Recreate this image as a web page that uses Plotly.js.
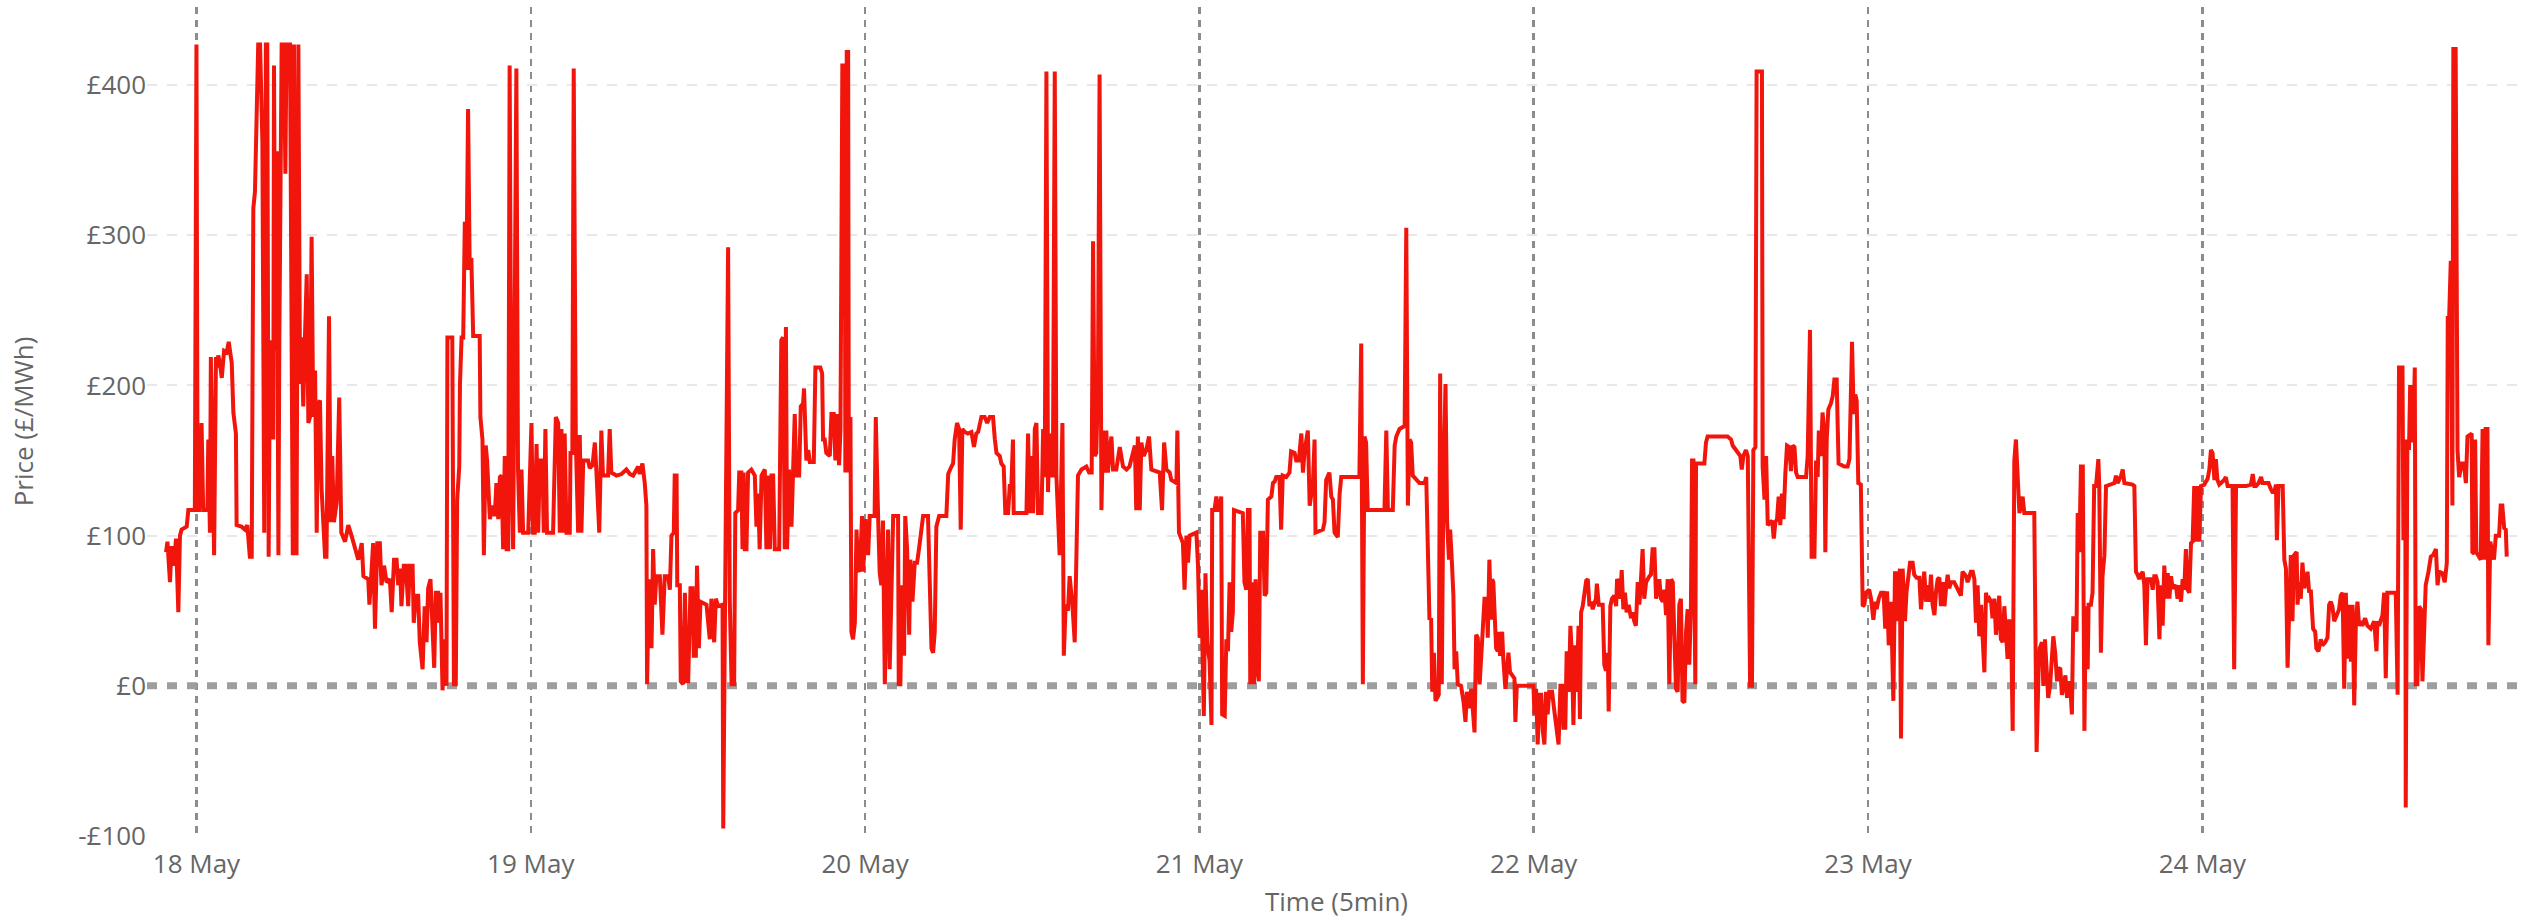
<!DOCTYPE html>
<html>
<head>
<meta charset="utf-8">
<script src="https://cdn.plot.ly/plotly-3.0.1.min.js"></script>
<style>html,body{margin:0;padding:0;background:#fff;}#chart{width:2544px;height:919px;}</style>
</head>
<body>
<div id="chart"></div>
<script>
// 5-minute prices: [hour of day, £/MWh]
const may17 = [[21.81,89],[21.91,96],[22.10,69],[22.22,93],[22.39,80],[22.53,98],[22.70,49],[22.82,100],[22.94,104],[23.30,106],[23.42,117],[23.89,117]];
const may18 = [[0.00,427],[0.08,117],[0.18,117],[0.37,175],[0.49,117],[0.78,117],[0.85,164],[0.97,102],[1.04,219],[1.26,87],[1.40,219],[1.49,212],[1.57,220],[1.69,215],[1.81,205],[1.98,223],[2.17,222],[2.31,229],[2.53,215],[2.65,182],[2.84,168],[2.89,107],[3.24,106],[3.48,104],[3.65,107],[3.84,86],[3.96,86],[4.08,318],[4.20,329],[4.44,427],[4.56,427],[4.73,362],[4.87,102],[4.99,427],[5.09,427],[5.18,86],[5.28,230],[5.40,223],[5.52,164],[5.57,413],[5.66,223],[5.76,356],[5.88,87],[5.95,230],[6.11,427],[6.28,427],[6.38,341],[6.47,427],[6.71,427],[6.91,87],[7.00,427],[7.19,87],[7.31,427],[7.43,201],[7.55,232],[7.67,186],[7.79,230],[7.91,274],[8.03,175],[8.15,179],[8.27,299],[8.39,179],[8.51,210],[8.63,102],[8.75,188],[8.87,190],[8.99,131],[9.11,106],[9.23,86],[9.34,86],[9.51,246],[9.63,109],[9.75,153],[9.87,109],[10.06,122],[10.25,192],[10.40,102],[10.66,96],[10.90,107],[11.14,100],[11.38,91],[11.62,84],[11.86,95],[11.98,73],[12.33,71],[12.41,54],[12.57,76],[12.69,95],[12.81,38],[12.98,95],[13.17,95],[13.29,67],[13.46,80],[13.65,69],[13.89,71],[14.01,49],[14.18,84],[14.37,84],[14.49,67],[14.61,78],[14.72,53],[14.89,80],[15.03,80],[15.20,53],[15.32,80],[15.51,80],[15.60,42],[15.75,60],[15.92,60],[16.04,29],[16.23,11],[16.39,53],[16.51,29],[16.63,65],[16.80,71],[16.94,42],[17.06,12],[17.18,62],[17.35,62],[17.42,42],[17.52,62],[17.66,-3],[17.83,31],[17.95,0],[18.02,232],[18.19,232],[18.36,232],[18.48,1],[18.62,1],[18.71,124],[18.86,146],[18.91,201],[19.03,232],[19.15,232],[19.27,309],[19.38,277],[19.50,384],[19.62,277],[19.74,285],[19.86,233],[20.34,233],[20.39,179],[20.53,164],[20.63,87],[20.77,160],[20.87,150],[20.96,128],[21.06,111],[21.25,120],[21.42,113],[21.54,135],[21.66,111],[21.78,139],[21.90,140],[22.02,91],[22.14,153],[22.26,91],[22.38,91],[22.49,413],[22.61,146],[22.73,91],[22.85,215],[22.97,411],[23.09,144],[23.21,102],[23.33,144],[23.45,102],[23.81,102]];
const may19 = [[0.05,175],[0.17,102],[0.29,102],[0.41,161],[0.53,102],[0.65,150],[0.84,150],[0.93,102],[1.05,171],[1.17,102],[1.60,102],[1.80,179],[1.96,175],[2.08,102],[2.20,171],[2.32,102],[2.44,168],[2.56,102],[2.80,102],[2.85,155],[2.99,155],[3.09,411],[3.23,164],[3.40,102],[3.52,167],[3.64,102],[3.76,150],[4.12,150],[4.24,145],[4.43,147],[4.60,162],[4.71,142],[4.91,102],[5.07,170],[5.19,140],[5.55,140],[5.67,171],[5.79,142],[6.15,140],[6.51,141],[6.87,144],[7.11,141],[7.35,140],[7.71,146],[7.82,141],[8.02,148],[8.18,135],[8.30,120],[8.35,1],[8.49,71],[8.66,25],[8.78,91],[8.90,54],[9.02,73],[9.26,73],[9.45,34],[9.62,73],[9.86,73],[9.98,64],[10.10,100],[10.27,102],[10.34,140],[10.46,140],[10.51,67],[10.70,67],[10.77,3],[10.94,1],[11.06,62],[11.18,3],[11.30,3],[11.46,65],[11.61,65],[11.70,20],[11.85,20],[11.94,80],[12.06,25],[12.18,56],[12.61,54],[12.73,40],[12.85,31],[12.97,58],[13.16,29],[13.28,58],[13.45,53],[13.76,54],[13.81,-95],[14.00,113],[14.17,292],[14.29,58],[14.41,1],[14.60,1],[14.69,115],[14.88,117],[14.96,142],[15.12,142],[15.20,91],[15.29,142],[15.36,91],[15.48,91],[15.60,142],[15.84,144],[16.08,140],[16.20,106],[16.32,128],[16.44,91],[16.56,140],[16.80,144],[16.92,91],[17.04,140],[17.16,91],[17.28,140],[17.40,140],[17.52,91],[17.83,91],[17.99,230],[18.11,232],[18.23,91],[18.31,239],[18.40,91],[18.54,144],[18.71,106],[18.83,144],[18.95,181],[19.07,140],[19.26,140],[19.38,186],[19.55,188],[19.62,198],[19.79,150],[19.91,157],[20.03,149],[20.31,149],[20.43,212],[20.79,212],[20.91,208],[20.98,164],[21.10,164],[21.22,155],[21.46,153],[21.58,181],[21.75,181],[21.87,150],[21.99,181],[22.13,147],[22.23,171],[22.37,413],[22.54,413],[22.59,142],[22.68,422],[22.78,422],[22.83,142],[22.95,179],[23.02,36],[23.14,31],[23.26,42],[23.38,104],[23.50,78],[23.62,76],[23.78,113],[23.86,76]];
const may20 = [[0.02,111],[0.21,87],[0.33,113],[0.69,113],[0.76,179],[0.93,113],[1.05,75],[1.17,67],[1.29,110],[1.41,1],[1.53,56],[1.65,104],[1.77,11],[1.89,65],[2.01,113],[2.37,113],[2.42,1],[2.53,1],[2.65,67],[2.80,20],[2.89,113],[3.01,91],[3.16,34],[3.25,84],[3.40,56],[3.56,82],[3.73,82],[3.87,91],[4.04,106],[4.16,113],[4.52,113],[4.64,58],[4.76,25],[4.88,22],[5.00,36],[5.12,106],[5.31,113],[5.84,113],[5.96,141],[6.20,146],[6.32,148],[6.44,164],[6.60,175],[6.75,171],[6.87,104],[6.99,171],[7.15,169],[7.39,168],[7.63,169],[7.82,159],[7.99,168],[8.11,169],[8.35,179],[8.59,179],[8.76,175],[8.95,179],[9.19,179],[9.31,164],[9.43,155],[9.67,153],[9.79,148],[9.95,146],[10.07,115],[10.26,115],[10.38,133],[10.50,133],[10.62,164],[10.67,115],[11.58,115],[11.70,168],[11.82,115],[11.94,153],[12.06,115],[12.18,171],[12.30,175],[12.42,115],[12.66,115],[12.78,171],[12.90,139],[13.02,409],[13.14,129],[13.25,168],[13.37,140],[13.49,140],[13.61,409],[13.73,140],[13.85,109],[13.97,87],[14.16,175],[14.26,20],[14.40,54],[14.57,50],[14.69,73],[14.88,54],[15.05,29],[15.17,87],[15.29,140],[15.53,144],[15.89,146],[16.08,142],[16.27,142],[16.36,296],[16.48,153],[16.60,155],[16.72,201],[16.84,407],[16.96,117],[17.08,170],[17.20,142],[17.32,170],[17.44,142],[17.56,157],[17.68,166],[17.80,144],[18.04,144],[18.28,159],[18.40,153],[18.52,146],[18.76,144],[18.99,146],[19.12,151],[19.36,160],[19.47,117],[19.59,166],[19.71,117],[19.83,162],[20.00,153],[20.19,157],[20.38,166],[20.55,144],[21.15,142],[21.32,117],[21.46,162],[21.63,144],[21.87,142],[21.99,137],[22.35,135],[22.42,170],[22.54,102],[22.82,95],[22.94,64],[23.06,100],[23.18,82],[23.30,100],[23.78,102],[23.90,80]];
const may21 = [[0.02,32],[0.14,64],[0.31,-20],[0.43,75],[0.57,29],[0.74,16],[0.86,-26],[0.92,117],[1.09,117],[1.21,126],[1.33,117],[1.45,117],[1.57,126],[1.64,-19],[1.81,-20],[1.93,31],[2.05,23],[2.17,69],[2.29,36],[2.40,49],[2.48,117],[3.00,115],[3.12,115],[3.24,69],[3.36,64],[3.48,117],[3.60,117],[3.65,1],[3.79,69],[3.91,1],[4.03,71],[4.13,12],[4.27,3],[4.37,102],[4.56,102],[4.68,60],[4.80,62],[4.92,124],[5.16,126],[5.28,135],[5.40,136],[5.51,139],[5.75,139],[5.87,104],[5.99,140],[6.23,139],[6.47,142],[6.59,156],[6.83,155],[6.95,150],[7.14,150],[7.31,168],[7.43,142],[7.55,156],[7.79,170],[7.91,120],[8.03,128],[8.15,135],[8.27,164],[8.34,102],[8.86,104],[8.98,109],[9.10,137],[9.22,139],[9.34,142],[9.46,126],[9.58,124],[9.70,102],[9.94,99],[10.06,128],[10.18,139],[11.49,139],[11.61,228],[11.73,1],[11.85,166],[11.97,162],[12.09,117],[13.29,117],[13.41,170],[13.53,117],[13.89,117],[14.01,160],[14.13,166],[14.37,171],[14.73,173],[14.85,305],[14.96,120],[15.08,164],[15.20,162],[15.32,140],[15.80,135],[16.16,135],[16.28,139],[16.40,91],[16.52,44],[16.64,45],[16.71,-4],[16.83,22],[16.95,-10],[17.19,-6],[17.29,208],[17.40,1],[17.52,135],[17.67,201],[17.79,109],[17.91,84],[18.00,104],[18.12,84],[18.24,60],[18.31,11],[18.43,23],[18.55,1],[18.79,0],[18.96,-11],[19.10,-24],[19.20,-4],[19.34,-15],[19.51,-2],[19.75,-31],[19.87,34],[19.99,32],[20.11,1],[20.22,23],[20.34,36],[20.46,58],[20.63,58],[20.70,32],[20.82,84],[20.94,44],[21.01,71],[21.10,69],[21.25,40],[21.30,25],[21.42,23],[21.49,36],[21.58,20],[21.73,36],[21.82,18],[21.97,-2],[22.06,9],[22.18,22],[22.30,9],[22.61,5],[22.68,-24],[22.78,0],[23.98,0]];
const may22 = [[0.05,-19],[0.17,-2],[0.29,-39],[0.41,-6],[0.53,-6],[0.65,-30],[0.77,-39],[0.88,-4],[1.00,-19],[1.12,-4],[1.32,-4],[1.48,-17],[1.67,-30],[1.79,-39],[1.91,0],[2.03,0],[2.13,-28],[2.27,-28],[2.37,23],[2.51,-4],[2.63,40],[2.75,18],[2.85,-26],[2.97,27],[3.09,-4],[3.21,40],[3.32,-22],[3.40,49],[3.52,53],[3.64,62],[3.76,70],[3.88,71],[4.00,53],[4.11,56],[4.23,51],[4.47,58],[4.54,68],[4.66,54],[4.95,54],[5.07,14],[5.19,10],[5.31,22],[5.38,-17],[5.50,53],[5.62,58],[5.79,60],[5.91,53],[5.98,71],[6.10,69],[6.20,58],[6.32,77],[6.43,51],[6.55,62],[6.67,49],[6.82,54],[6.99,45],[7.10,49],[7.22,43],[7.34,40],[7.46,69],[7.58,54],[7.70,71],[7.82,91],[7.94,58],[8.06,69],[8.30,73],[8.42,74],[8.54,91],[8.66,91],[8.78,58],[8.90,64],[9.02,71],[9.14,58],[9.26,56],[9.38,64],[9.50,47],[9.62,71],[9.74,1],[9.86,71],[9.98,69],[10.10,31],[10.21,-2],[10.33,-4],[10.45,54],[10.57,58],[10.69,-10],[10.81,-11],[10.93,36],[11.05,51],[11.17,14],[11.29,51],[11.36,150],[11.46,150],[11.60,1],[11.65,148],[12.25,148],[12.37,162],[12.49,166],[13.92,166],[14.16,164],[14.28,160],[14.52,157],[14.64,155],[14.83,153],[14.93,144],[15.05,153],[15.24,157],[15.36,153],[15.53,0],[15.67,0],[15.76,157],[15.91,159],[16.00,409],[16.39,409],[16.44,146],[16.56,124],[16.68,153],[16.80,107],[17.11,110],[17.23,98],[17.35,109],[17.47,111],[17.59,126],[17.70,107],[17.82,128],[17.94,111],[18.06,142],[18.18,160],[18.35,159],[18.47,143],[18.59,160],[18.71,159],[18.83,142],[18.95,139],[19.55,139],[19.67,153],[19.83,237],[19.95,86],[20.15,86],[20.26,150],[20.38,139],[20.46,170],[20.62,153],[20.74,182],[20.86,168],[20.93,89],[21.03,164],[21.15,184],[21.34,188],[21.46,193],[21.58,204],[21.75,204],[21.82,175],[21.89,148],[22.30,146],[22.54,146],[22.66,151],[22.85,229],[22.97,181],[23.09,194],[23.18,190],[23.30,135],[23.49,134],[23.61,53],[23.73,54],[23.85,62]];
const may23 = [[0.09,64],[0.21,58],[0.38,44],[0.52,56],[0.62,51],[0.76,58],[0.93,62],[1.12,62],[1.24,38],[1.36,63],[1.48,27],[1.65,56],[1.81,-10],[1.93,75],[2.08,75],[2.17,43],[2.29,78],[2.37,-35],[2.48,78],[2.65,43],[2.77,63],[2.89,74],[3.01,82],[3.20,82],[3.32,74],[3.49,72],[3.68,72],[3.80,51],[3.92,63],[4.04,76],[4.16,56],[4.28,67],[4.40,56],[4.52,74],[4.64,54],[4.76,47],[4.88,63],[5.00,71],[5.12,72],[5.24,53],[5.36,69],[5.48,53],[5.60,65],[5.71,74],[5.83,65],[5.95,69],[6.19,69],[6.36,65],[6.50,63],[6.67,60],[6.79,76],[6.91,74],[7.03,73],[7.15,69],[7.27,74],[7.39,76],[7.51,76],[7.63,71],[7.75,42],[7.87,67],[7.99,33],[8.11,54],[8.23,31],[8.35,9],[8.47,62],[8.59,56],[8.71,58],[8.83,56],[8.94,45],[9.06,58],[9.18,34],[9.30,49],[9.42,60],[9.54,31],[9.66,29],[9.78,53],[9.90,32],[10.02,18],[10.14,43],[10.26,43],[10.38,-30],[10.50,150],[10.62,164],[10.74,142],[10.86,115],[11.10,126],[11.22,115],[11.94,115],[12.01,1],[12.10,-44],[12.25,14],[12.34,25],[12.49,29],[12.58,0],[12.70,31],[12.82,3],[12.94,-8],[13.06,0],[13.18,20],[13.30,33],[13.44,22],[13.56,3],[13.68,11],[13.80,12],[13.92,-6],[14.04,1],[14.16,7],[14.28,-8],[14.40,3],[14.52,0],[14.64,-19],[14.74,45],[14.88,45],[14.97,36],[15.05,115],[15.17,89],[15.29,146],[15.41,146],[15.53,-30],[15.64,53],[15.76,11],[15.84,54],[16.00,54],[16.12,62],[16.24,133],[16.36,133],[16.53,151],[16.60,133],[16.72,22],[16.84,73],[16.96,87],[17.08,133],[17.68,135],[17.80,140],[17.92,135],[18.16,140],[18.28,144],[18.40,135],[18.99,134],[19.11,133],[19.23,76],[19.35,74],[19.47,71],[19.59,74],[19.71,76],[19.83,67],[19.95,27],[20.07,71],[20.31,71],[20.43,64],[20.55,73],[20.67,73],[20.79,69],[20.91,31],[21.03,67],[21.15,40],[21.27,80],[21.39,58],[21.51,75],[21.63,58],[21.75,73],[21.87,65],[22.10,67],[22.22,58],[22.34,67],[22.46,56],[22.58,71],[22.70,64],[22.82,91],[22.94,64],[23.06,62],[23.18,95],[23.30,96],[23.42,133],[23.54,96],[23.66,133],[23.78,96],[23.90,133]];
const may24 = [[0.14,134],[0.38,138],[0.50,144],[0.62,157],[0.74,155],[0.86,137],[0.97,151],[1.09,137],[1.21,134],[1.33,135],[1.57,137],[1.69,139],[1.81,133],[2.17,133],[2.29,11],[2.41,133],[3.13,133],[3.49,134],[3.61,141],[3.73,133],[3.85,133],[4.04,135],[4.21,139],[4.32,135],[4.56,135],[4.75,135],[4.92,131],[5.04,129],[5.16,129],[5.28,134],[5.35,97],[5.47,133],[5.76,133],[5.88,84],[6.00,78],[6.12,12],[6.35,87],[6.47,43],[6.59,87],[6.76,89],[6.83,54],[6.95,69],[7.07,58],[7.19,82],[7.31,65],[7.43,69],[7.55,76],[7.67,62],[7.79,64],[7.86,43],[7.95,38],[8.10,36],[8.19,25],[8.34,23],[8.50,31],[8.62,27],[8.81,29],[8.98,32],[9.10,54],[9.22,56],[9.34,53],[9.46,43],[9.70,49],[9.82,51],[9.94,60],[10.06,62],[10.18,-2],[10.30,62],[10.42,18],[10.54,54],[10.66,16],[10.78,54],[10.90,-13],[11.01,40],[11.13,56],[11.25,40],[11.37,43],[11.49,40],[11.68,45],[11.85,40],[12.09,38],[12.21,40],[12.33,43],[12.50,23],[12.57,43],[12.69,40],[12.81,43],[12.93,47],[13.05,62],[13.17,5],[13.29,62],[13.53,62],[13.77,62],[13.89,62],[14.01,-6],[14.12,212],[14.36,212],[14.44,97],[14.56,164],[14.60,-81],[14.72,164],[14.84,157],[14.91,199],[15.03,199],[15.13,162],[15.25,212],[15.32,1],[15.44,1],[15.56,53],[15.68,51],[15.80,3],[15.92,47],[16.04,67],[16.23,76],[16.40,86],[16.56,87],[16.76,91],[16.88,67],[17.00,76],[17.23,75],[17.40,69],[17.55,82],[17.62,245],[17.71,245],[17.83,283],[17.95,120],[18.02,424],[18.19,424],[18.31,157],[18.43,139],[18.62,148],[18.79,148],[18.91,135],[19.03,166],[19.34,168],[19.39,89],[19.51,88],[19.58,164],[19.67,89],[19.99,84],[20.11,171],[20.23,84],[20.34,171],[20.46,171],[20.54,27],[20.66,96],[20.82,87],[20.94,84],[21.06,100],[21.30,100],[21.42,120],[21.54,120],[21.66,105],[21.78,104],[21.85,86]];

const days = [[17, may17],[18, may18],[19, may19],[20, may20],[21, may21],[22, may22],[23, may23],[24, may24]];
const yTickVals = [-100, 0, 100, 200, 300, 400];
const yTickText = ['-£100', '£0', '£100', '£200', '£300', '£400'];
const xRange = ['2024-05-17 20:27', '2024-05-24 23:14'];
const yRange = [-100, 452];

const pad = n => String(n).padStart(2, '0');
const stamp = (d, h) => { const m = Math.round(h * 60); return `2024-05-${pad(d)} ${pad(Math.floor(m / 60))}:${pad(m % 60)}`; };
const xs = [], ys = [];
days.forEach(([d, arr]) => arr.forEach(([h, v]) => { xs.push(stamp(d, h)); ys.push(v); }));

const font = {family: 'Open Sans, sans-serif', size: 26, color: '#666666'};

const data = [
  {
    // dashed zero reference line across the whole x range
    type: 'scatter', mode: 'lines', x: xRange, y: [0, 0],
    line: {color: '#9e9e9e', width: 7, dash: '10px,10px'},
    hoverinfo: 'skip', showlegend: false
  },
  {
    type: 'scatter', mode: 'lines', x: xs, y: ys,
    line: {color: '#f2150c', width: 4},
    hoverinfo: 'x+y', showlegend: false
  }
];

const layout = {
  width: 2544, height: 919,
  margin: {l: 147, r: 18, t: 7, b: 83},
  paper_bgcolor: '#ffffff', plot_bgcolor: '#ffffff',
  font: font,
  showlegend: false,
  xaxis: {
    type: 'date', range: xRange,
    tick0: '2024-05-18', dtick: 86400000, tickformat: '%-d %b',
    showgrid: true, gridcolor: '#8c8c8c', gridwidth: 2.5, griddash: '7px,6px',
    zeroline: false, showline: false, ticks: '',
    ticklabelstandoff: 10,
    tickfont: font,
    title: {text: 'Time (5min)', font: font, standoff: 16}
  },
  yaxis: {
    range: yRange, tickvals: yTickVals, ticktext: yTickText,
    showgrid: true, gridcolor: '#e8e8e8', gridwidth: 2, griddash: '10px,10px',
    zeroline: false, showline: false, ticks: '',
    tickfont: font,
    title: {text: 'Price (£/MWh)', font: font, standoff: 37}
  }
};

Plotly.newPlot('chart', data, layout, {displayModeBar: false, staticPlot: true});
</script>
</body>
</html>
